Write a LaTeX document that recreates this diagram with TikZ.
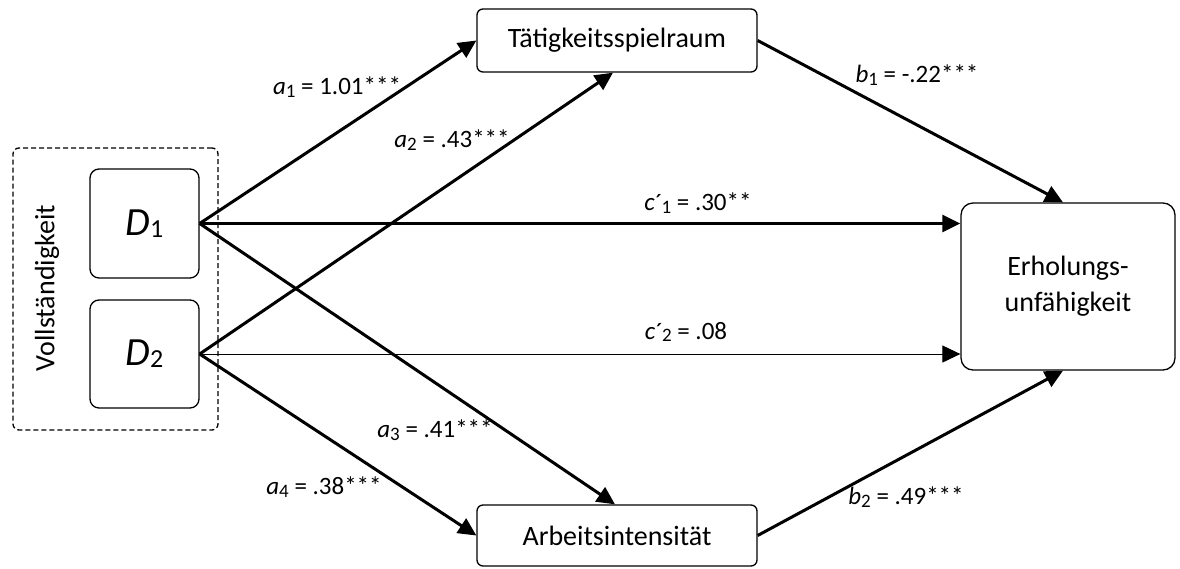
\documentclass[tikz,border=0pt]{standalone}
\usepackage{fontspec}
\setmainfont{Carlito}
\usetikzlibrary{arrows.meta,calc}
\newcommand\lsub[1]{\raisebox{-2.5pt}{\fontsize{19}{19}\selectfont #1}}
\newcommand\prm{\kern0.5pt\raisebox{-1pt}{´}\kern-1pt}
\begin{document}
\begin{tikzpicture}[x=1pt,y=-1pt,
  box/.style={draw,line width=1.3pt,rounded corners=6pt,inner sep=0pt,fill=white,
    font=\fontsize{28}{36}\selectfont,align=center},
  lab/.style={font=\fontsize{25}{30}\selectfont,inner sep=0pt},
  tip/.style={-{Triangle[length=18pt,width=17pt]}},
  strong/.style={line width=3pt,tip},
  weak/.style={line width=1pt,tip},
]
\fill[white] (0,0) rectangle (1180,568);
\useasboundingbox (0,0) rectangle (1180,568);

% group box
\node[draw,dash pattern=on 5pt off 3pt,line width=1.3pt,rounded corners=6pt,minimum width=205pt,minimum height=282pt,inner sep=0pt] (grp) at (115.5,289) {};
\node[font=\fontsize{28}{34}\selectfont,rotate=90] (vlab) at (47,288) {Vollständigkeit};

% predictor boxes
\node[box,rounded corners=9pt,minimum width=109pt,minimum height=109pt] (D1) at (144.5,223.5)
  {\fontsize{40}{40}\selectfont\textit{D}\raisebox{-2pt}{\fontsize{26}{26}\selectfont 1}};
\node[box,rounded corners=9pt,minimum width=109pt,minimum height=108pt] (D2) at (144.5,354)
  {\fontsize{40}{40}\selectfont\textit{D}\raisebox{-2pt}{\fontsize{26}{26}\selectfont 2}};

% mediators and outcome
\node[box,minimum width=280pt,minimum height=63pt] (T) at (617,40.5) {Tätigkeitsspielraum};
\node[box,minimum width=280pt,minimum height=61pt] (A) at (617,535.5) {Arbeitsintensität};
\node[box,rounded corners=12pt,minimum width=214pt,minimum height=167pt] (E) at (1068,286.5) {Erholungs-\\unfähigkeit};

% paths
\draw[strong] (D1.east) -- (T.west);
\draw[strong] (D2.east) -- ($(T.south)+(-4,0)$);
\draw[strong] (D1.east) -- (D1.east -| E.west);
\draw[weak] (D2.east) -- (D2.east -| E.west);
\draw[strong] (D1.east) -- ($(A.north)+(-2,0)$);
\draw[strong] (D2.east) -- (A.west);
\draw[strong] (T.east) -- ($(E.north)+(-5,0)$);
\draw[strong] (A.east) -- ($(E.south)+(-5,0)$);

% labels
\node[lab] (la1) at (337,87) {\textit{a}\lsub{1} = 1.01***};
\node[lab] (la2) at (452,140) {\textit{a}\lsub{2} = .43***};
\node[lab] (lb1) at (917,75) {\textit{b}\lsub{1} = -.22***};
\node[lab] (lc1) at (698,203) {\textit{c}\prm\lsub{1} = .30**};
\node[lab] (lc2) at (686,332) {\textit{c}\prm\lsub{2} = .08};
\node[lab] (la3) at (435,430) {\textit{a}\lsub{3} = .41***};
\node[lab] (la4) at (324,487) {\textit{a}\lsub{4} = .38***};
\node[lab] (lb2) at (906,497) {\textit{b}\lsub{2} = .49***};
\end{tikzpicture}
\end{document}
